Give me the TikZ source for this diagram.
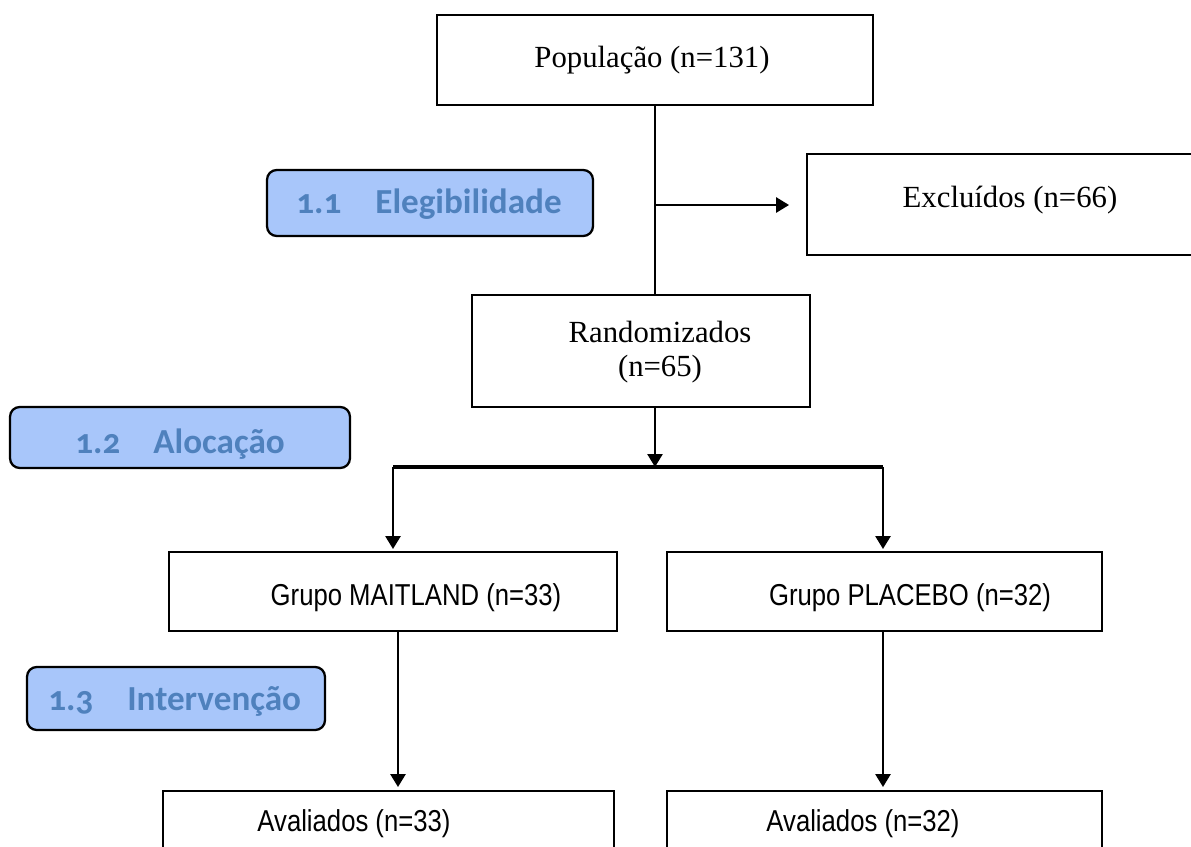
\documentclass[tikz,border=0pt]{standalone}
\usepackage{fontspec}
\setmainfont{Liberation Serif}
\newfontfamily\arialfont[FakeStretch=0.85]{Liberation Sans}
\newfontfamily\titrefont[Numbers=OldStyle]{Carlito}
\usetikzlibrary{arrows.meta}
\definecolor{bleuboite}{RGB}{168,198,250}
\definecolor{bleutexte}{RGB}{79,129,189}

\begin{document}
\begin{tikzpicture}[
    x=0.02cm, y=-0.02cm, % 1 unité = 1 pixel
    % Réglages des boîtes et des textes
    boite/.style={draw, line width=1.1pt, inner sep=0pt},
    texte/.style={font=\fontsize{17.5}{19.5}\selectfont, inner sep=0pt},
    texteb/.style={font=\arialfont\fontsize{17.2}{20}\selectfont, inner sep=0pt},
    etape/.style={draw, rounded corners=5.5pt, line width=1.3pt, fill=bleuboite, inner sep=0pt},
    etapetxt/.style={font=\titrefont\bfseries\fontsize{20}{24}\selectfont, text=bleutexte, inner sep=0pt, anchor=base west},
    trait/.style={line width=1.5pt},
    fleche/.style={line width=1.5pt, -{Triangle[length=0.26cm, width=0.3cm]}}, % Flèche pleine
    branche/.style={line width=2.3pt}
]
\useasboundingbox (0,0) rectangle (1191,846);
\clip (0,0) rectangle (1191,846);

% Boîtes du diagramme
\node[boite, minimum width=8.72cm, minimum height=1.8cm] (pop) at (655,60) {};
\node[texte, anchor=base] (poptxt) at (652,67) {População (n=131)};
\node[boite, minimum width=9.86cm, minimum height=2.02cm] (excl) at (1053.5,204.5) {};
\node[texte, anchor=base] (excltxt) at (1010,207) {Excluídos (n=66)};
\node[boite, minimum width=6.76cm, minimum height=2.24cm] (rand) at (641,351) {};
\node[texte, align=center] (randtxt) at (660,352) {Randomizados\\(n=65)};
\node[boite, minimum width=8.96cm, minimum height=1.58cm] (mait) at (393,591.5) {};
\node[texteb, anchor=base] (maittxt) at (416,605) {Grupo MAITLAND (n=33)};
\node[boite, minimum width=8.7cm, minimum height=1.58cm] (plac) at (884.5,591.5) {};
\node[texteb, anchor=base] (plactxt) at (910,605) {Grupo PLACEBO (n=32)};
\node[boite, minimum width=9.02cm, minimum height=2.18cm] (aval1) at (388.5,845.5) {};
\node[texteb, anchor=base] (aval1txt) at (354,831) {Avaliados (n=33)};
\node[boite, minimum width=8.7cm, minimum height=2.18cm] (aval2) at (884.5,845.5) {};
\node[texteb, anchor=base] (aval2txt) at (863,831) {Avaliados (n=32)};

% Étapes en bleu
\node[etape, minimum width=6.52cm, minimum height=1.32cm] (eleg) at (430,203) {};
\node[etapetxt] (elegnum) at (296,213) {1.1};
\node[etapetxt] (elegtxt) at (375,213) {Elegibilidade};
\node[etape, minimum width=6.8cm, minimum height=1.22cm] (aloc) at (180,437.5) {};
\node[etapetxt] (alocnum) at (75,453) {1.2};
\node[etapetxt] (aloctxt) at (153,453) {Alocação};
\node[etape, minimum width=5.96cm, minimum height=1.26cm] (interv) at (176,698.5) {};
\node[etapetxt] (intervnum) at (48,710) {1.3};
\node[etapetxt] (intervtxt) at (127,710) {Intervenção};

% Liaisons
\coordinate (embr) at (655,205);
\coordinate (centre) at (655,467);
\draw[trait] (pop.south) -- (pop.south |- rand.north);
\draw[fleche, shorten >=0.34cm] (embr) -- (embr -| excl.west);
\draw[fleche] (rand.south -| centre) -- (centre);
\draw[branche] (mait.north |- centre) -- (883,467);
\draw[fleche, shorten >=0.04cm] (mait.north |- centre) -- (mait.north);
\draw[fleche, shorten >=0.04cm] (883,467) -- (plac.north -| 883,0);
\draw[fleche, shorten >=0.06cm] (mait.south -| 398,0) -- (aval1.north -| 398,0);
\draw[fleche, shorten >=0.06cm] (plac.south -| 883,0) -- (aval2.north -| 883,0);
\end{tikzpicture}
\end{document}
